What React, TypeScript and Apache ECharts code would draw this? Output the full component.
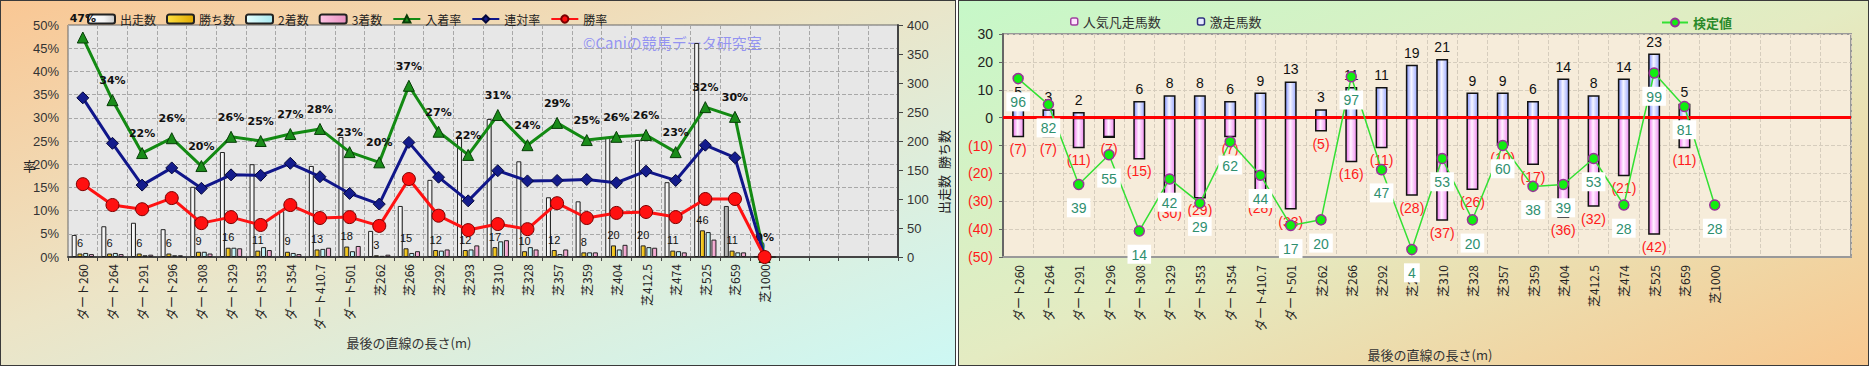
import React, { useEffect, useRef } from 'react';
import * as echarts from 'echarts';

// ---------- data ----------
const categories = ['ダート260','ダート264','ダート291','ダート296','ダート308','ダート329','ダート353','ダート354','ダート410.7','ダート501','芝262','芝266','芝292','芝293','芝310','芝328','芝357','芝359','芝404','芝412.5','芝474','芝525','芝659','芝1000'];
const emptySlots = ['', '', '', ''];

// left chart (counts on right axis, rates on left axis)
const starts = [38,53,59,48,121,181,160,79,157,207,45,88,133,207,238,165,103,96,207,202,129,369,88,1];
const wins = [6,6,6,6,9,16,11,9,13,18,3,15,12,12,17,10,12,8,20,20,11,46,11,0];
const seconds = [7,7,3,3,9,16,17,7,14,10,2,7,11,13,27,17,5,8,13,17,10,43,8,0];
const thirds = [5,5,4,3,6,15,12,5,16,19,4,10,13,20,29,13,13,8,21,16,8,30,8,0];
const placeRate = [47.3,33.8,22.4,25.6,19.6,25.9,25.0,26.5,27.6,22.6,20.4,36.9,27.0,22.0,30.6,24.1,28.9,25.2,25.9,26.3,22.6,32.3,30.2,0];
const top2Rate = [34.3,24.5,15.5,19.2,14.8,17.7,17.6,20.2,17.3,13.7,11.4,24.7,17.2,12.1,18.6,16.4,16.5,16.7,16.0,18.5,16.5,24.1,21.4,0];
const winRate = [15.7,11.2,10.3,12.7,7.3,8.6,6.9,11.2,8.4,8.6,6.7,16.8,8.9,5.8,7.1,6.0,11.6,8.4,9.5,9.7,8.6,12.5,12.5,0];

// right chart
const flopCounts = [7,7,11,7,15,30,29,7,28,33,5,16,11,28,37,26,10,17,36,32,21,42,11,0];
const surgeCounts = [5,3,2,0,6,8,8,6,9,13,3,11,11,19,21,9,9,6,14,8,14,23,5,0];
const testValues = [96,82,39,55,14,42,29,62,44,17,20,97,47,4,53,20,60,38,39,53,28,99,81,28];

const FONT = "'Noto Sans CJK JP', 'Noto Sans', sans-serif";

const hGrad = (stops: [number, string][]) =>
  new echarts.graphic.LinearGradient(0, 0, 1, 0, stops.map(([offset, color]) => ({ offset, color })));

export default function App() {
  const ref = useRef<HTMLDivElement>(null);

  useEffect(() => {
    if (!ref.current) return;
    const chart = echarts.init(ref.current, undefined, { renderer: 'svg' });
    const axisData = [...categories, ...emptySlots];

    const option: any = {
      animation: false,
      textStyle: { fontFamily: FONT },
      legend: [
        {
          data: ['出走数', '勝ち数', '2着数', '3着数', '入着率', '連対率', '勝率'],
          left: 82, top: 8, itemWidth: 27, itemHeight: 9, itemGap: 10,
          textStyle: { fontSize: 12, color: '#222', fontFamily: FONT },
        },
        {
          data: [
            { name: '人気凡走馬数', itemStyle: { color: '#ffe4ff', borderColor: '#a040a0', borderWidth: 1.5 } },
            { name: '激走馬数', itemStyle: { color: '#e8ecff', borderColor: '#303080', borderWidth: 1.5 } },
          ],
          left: 1065, top: 10, itemWidth: 7, itemHeight: 7, itemGap: 36,
          textStyle: { fontSize: 13, color: '#333', fontFamily: FONT },
        },
        {
          data: ['検定値'],
          left: 1656, top: 11, itemWidth: 26, itemHeight: 10, itemGap: 10,
          textStyle: { fontSize: 13, color: '#2a8a2a', fontWeight: 'bold', fontFamily: FONT },
        },
      ],
      grid: [
        { left: 68, top: 25, width: 830, height: 232, show: true, backgroundColor: '#e7e7e7', borderColor: '#666', borderWidth: 1 },
        { left: 1003, top: 34, width: 848, height: 223, show: true, backgroundColor: '#f6ecda', borderColor: '#999', borderWidth: 2 },
      ],
      xAxis: [
        {
          type: 'category', gridIndex: 0, data: axisData, boundaryGap: true,
          axisLine: { show: true, onZero: false, lineStyle: { color: '#444', width: 2 } },
          axisTick: { show: true, length: 4, lineStyle: { color: '#444' } },
          axisLabel: { rotate: 90, interval: 0, fontSize: 12, color: '#222', margin: 7, fontFamily: FONT },
          splitLine: { show: true, lineStyle: { color: '#a8a8a8', type: 'dashed', width: 1 } },
        },
        {
          type: 'category', gridIndex: 1, data: axisData, boundaryGap: true,
          axisLine: { show: true, onZero: false, lineStyle: { color: '#999', width: 2 } },
          axisTick: { show: false },
          axisLabel: { rotate: 90, interval: 0, fontSize: 12, color: '#222', margin: 8, fontFamily: FONT },
          splitLine: { show: true, lineStyle: { color: '#d6cdbd', type: 'dashed', width: 1 } },
        },
      ],
      yAxis: [
        {
          type: 'value', gridIndex: 0, min: 0, max: 50, interval: 5,
          axisLine: { show: false }, axisTick: { show: false },
          axisLabel: { formatter: '{value}%', fontSize: 13, color: '#333', margin: 9, fontFamily: 'Liberation Sans' },
          splitLine: { show: true, lineStyle: { color: '#a8a8a8', type: 'dashed', width: 1 } },
        },
        {
          type: 'value', gridIndex: 0, min: 0, max: 400, interval: 50, position: 'right',
          axisLine: { show: true, lineStyle: { color: '#444', width: 2 } },
          axisTick: { show: true, length: 5, lineStyle: { color: '#444' } },
          axisLabel: { fontSize: 13, color: '#333', margin: 9, fontFamily: 'Liberation Sans' },
          splitLine: { show: false },
        },
        {
          type: 'value', gridIndex: 1, min: -50, max: 30, interval: 10,
          axisLine: { show: true, lineStyle: { color: '#666', width: 2 } },
          axisTick: { show: true, length: 4, lineStyle: { color: '#666' } },
          axisLabel: {
            margin: 10,
            formatter: (v: number) => (v < 0 ? `{n|(${-v})}` : `{p|${v}}`),
            rich: {
              n: { color: '#ff1a1a', fontSize: 14, fontFamily: 'Liberation Sans' },
              p: { color: '#222', fontSize: 14, fontFamily: 'Liberation Sans' },
            },
          },
          splitLine: { show: true, lineStyle: { color: '#d6cdbd', type: 'dashed', width: 1 } },
        },
        { type: 'value', gridIndex: 1, min: 0, max: 120, show: false, splitLine: { show: false } },
      ],
      series: [
        {
          name: '出走数', type: 'bar', xAxisIndex: 0, yAxisIndex: 1, barWidth: 5, barGap: '15%',
          data: starts.map((v, i) => (i === 22 ? { value: v, itemStyle: { color: '#b4b4b4' } } : v)),
          itemStyle: { color: hGrad([[0, '#ffffff'], [0.6, '#f4f4f4'], [1, '#c8c8c8']]), borderColor: '#222', borderWidth: 1 },
        },
        {
          name: '勝ち数', type: 'bar', xAxisIndex: 0, yAxisIndex: 1, barWidth: 5, barGap: '15%',
          data: wins,
          itemStyle: { color: hGrad([[0, '#ffe040'], [1, '#e0a800']]), borderColor: '#222', borderWidth: 1 },
          label: { show: true, position: 'top', distance: 5, fontSize: 11, color: '#111', fontFamily: 'Liberation Sans' },
        },
        {
          name: '2着数', type: 'bar', xAxisIndex: 0, yAxisIndex: 1, barWidth: 5, barGap: '15%',
          data: seconds,
          itemStyle: { color: hGrad([[0, '#e4ffff'], [1, '#a8e8f0']]), borderColor: '#222', borderWidth: 1 },
        },
        {
          name: '3着数', type: 'bar', xAxisIndex: 0, yAxisIndex: 1, barWidth: 5, barGap: '15%',
          data: thirds,
          itemStyle: { color: hGrad([[0, '#ffc4e4'], [1, '#e890c0']]), borderColor: '#222', borderWidth: 1 },
        },
        {
          name: '入着率', type: 'line', xAxisIndex: 0, yAxisIndex: 0, data: placeRate,
          symbol: 'triangle', symbolSize: 11, z: 5,
          lineStyle: { color: '#138a13', width: 3 },
          itemStyle: { color: '#1a8c1a', borderColor: '#073d07', borderWidth: 1 },
          label: {
            show: true, position: 'top', distance: 8, fontSize: 11, fontWeight: 'bold', color: '#111',
            fontFamily: 'DejaVu Sans',
            formatter: (p: any) => `${Math.round(p.value)}%`,
          },
        },
        {
          name: '連対率', type: 'line', xAxisIndex: 0, yAxisIndex: 0, data: top2Rate,
          symbol: 'diamond', symbolSize: 12, z: 6,
          lineStyle: { color: '#10168a', width: 3 },
          itemStyle: { color: '#141c8c', borderColor: '#05083a', borderWidth: 1 },
        },
        {
          name: '勝率', type: 'line', xAxisIndex: 0, yAxisIndex: 0, data: winRate,
          symbol: 'circle', symbolSize: 13, z: 7,
          lineStyle: { color: '#ff1212', width: 3 },
          itemStyle: { color: '#ff1010', borderColor: '#7a0000', borderWidth: 1 },
        },
        {
          name: '人気凡走馬数', type: 'bar', xAxisIndex: 1, yAxisIndex: 2, stack: 'r', barWidth: 12,
          data: flopCounts.map((v) => -v),
          itemStyle: { color: hGrad([[0, '#f070f0'], [0.45, '#fff2ff'], [1, '#f08cf0']]), borderColor: '#111', borderWidth: 1.5 },
          label: {
            show: true, position: 'bottom', distance: 5, fontSize: 14, color: '#ff1a1a', fontFamily: 'Liberation Sans',
            formatter: (p: any) => (p.value === 0 ? '' : `(${-p.value})`),
          },
        },
        {
          name: '激走馬数', type: 'bar', xAxisIndex: 1, yAxisIndex: 2, stack: 'r', barWidth: 12,
          data: surgeCounts,
          itemStyle: { color: hGrad([[0, '#8090ff'], [0.45, '#f6f6ff'], [1, '#9aa8ff']]), borderColor: '#111', borderWidth: 1.5 },
          label: {
            show: true, position: 'top', distance: 5, fontSize: 14, color: '#111', fontFamily: 'Liberation Sans',
            formatter: (p: any) => (p.value === 0 ? '' : `${p.value}`),
          },
          markLine: {
            silent: true, symbol: ['none', 'none'], z: 4,
            data: [{ yAxis: 0 }],
            lineStyle: { color: '#ff0000', width: 3, type: 'solid' },
            label: { show: false },
          },
        },
        {
          name: '検定値', type: 'line', xAxisIndex: 1, yAxisIndex: 3, data: testValues,
          symbol: 'circle', symbolSize: 10, z: 8,
          lineStyle: { color: '#33e033', width: 1.5 },
          itemStyle: { color: '#11ee11', borderColor: '#993399', borderWidth: 1.5 },
          label: {
            show: true, position: 'bottom', distance: 8, fontSize: 14, color: '#2f8f6f',
            backgroundColor: '#ffffff', padding: [3, 4, 2, 4], fontFamily: 'Liberation Sans',
          },
        },
      ],
      graphic: [
        { type: 'text', left: 23, top: 159, style: { text: '率', fontSize: 13, fill: '#222', fontFamily: FONT } },
        {
          type: 'text', x: 943, y: 172, rotation: Math.PI / 2,
          style: { text: '出走数  勝ち数', fontSize: 13, fill: '#222', fontFamily: FONT, align: 'center', verticalAlign: 'middle' },
        },
        {
          type: 'text', x: 583, y: 42,
          style: { text: '©Caniの競馬データ研究室', fontSize: 15, fill: 'rgba(120,120,245,0.75)', fontFamily: FONT, align: 'left', verticalAlign: 'middle' },
        },
        {
          type: 'text', x: 409, y: 342,
          style: { text: '最後の直線の長さ(m)', fontSize: 13, fill: '#333', fontFamily: FONT, align: 'center', verticalAlign: 'middle' },
        },
        {
          type: 'text', x: 1430, y: 354,
          style: { text: '最後の直線の長さ(m)', fontSize: 13, fill: '#333', fontFamily: FONT, align: 'center', verticalAlign: 'middle' },
        },
      ],
    };

    chart.setOption(option);
    return () => chart.dispose();
  }, []);

  return (
    <div style={{ position: 'fixed', left: 0, top: 0, width: 1869, height: 368, background: '#ffffff' }}>
      <div
        style={{
          position: 'absolute', left: 0, top: 0, width: 954, height: 364,
          border: '1px solid #3a3a3a',
          background: 'linear-gradient(to bottom right, #f9c794 0%, #ece4c6 45%, #cdf8f4 100%)',
        }}
      />
      <div
        style={{
          position: 'absolute', left: 958, top: 0, width: 909, height: 364,
          border: '1px solid #3a3a3a',
          background: 'linear-gradient(to bottom right, #c6f8c8 0%, #e4ebc2 50%, #f8c890 100%)',
        }}
      />
      <div ref={ref} style={{ position: 'absolute', left: 0, top: 0, width: 1869, height: 368 }} />
    </div>
  );
}
